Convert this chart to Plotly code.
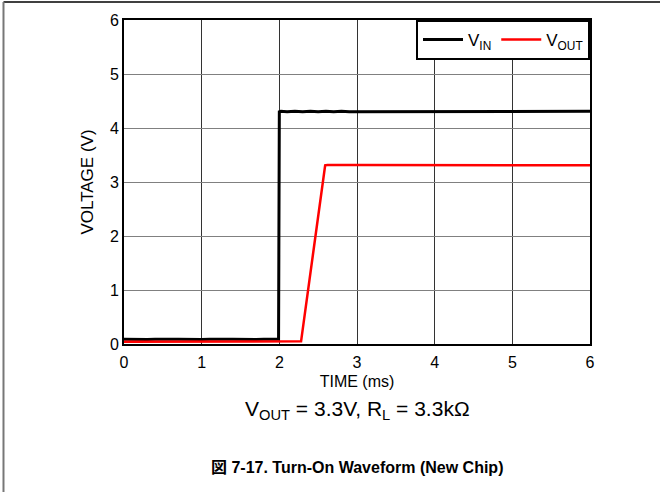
import plotly.graph_objects as go

# V_IN trace (ms, V)
vin_t = [0.0, 0.1, 0.2, 0.3, 0.4, 0.5, 0.6, 0.7, 0.8, 0.9, 1.0, 1.1, 1.2, 1.3, 1.4, 1.5, 1.6, 1.7, 1.8, 1.9,
         1.99, 2.0,
         2.02, 2.1, 2.2, 2.3, 2.4, 2.5, 2.6, 2.7, 2.8, 2.9, 3.0, 3.1, 3.2, 3.3, 3.4, 3.5, 3.6, 3.7, 3.8, 3.9,
         4.0, 4.1, 4.2, 4.3, 4.4, 4.5, 4.6, 4.7, 4.8, 4.9, 5.0, 5.1, 5.2, 5.3, 5.4, 5.5, 5.6, 5.7, 5.8, 5.9, 6.0]
vin_v = [0.09, 0.085, 0.09, 0.085, 0.09, 0.085, 0.09, 0.09, 0.085, 0.09, 0.085, 0.09, 0.085, 0.09, 0.09, 0.085, 0.09, 0.085, 0.09, 0.09,
         0.09, 4.30,
         4.31, 4.30, 4.31, 4.30, 4.31, 4.30, 4.31, 4.30, 4.31, 4.30, 4.30, 4.31, 4.30, 4.31, 4.30, 4.31, 4.30, 4.30, 4.31, 4.30,
         4.31, 4.30, 4.31, 4.30, 4.31, 4.30, 4.31, 4.30, 4.31, 4.30, 4.30, 4.31, 4.30, 4.31, 4.30, 4.31, 4.30, 4.30, 4.31, 4.30, 4.31]

# V_OUT trace (ms, V)
vout_t = [0.0, 1.0, 2.0, 2.25, 2.28, 2.59, 2.62, 3.0, 3.5, 4.0, 4.5, 5.0, 5.5, 6.0]
vout_v = [0.04, 0.04, 0.04, 0.04, 0.05, 3.31, 3.315, 3.315, 3.315, 3.31, 3.315, 3.315, 3.31, 3.31]

x_ticks = [0, 1, 2, 3, 4, 5, 6]
y_ticks = [0, 1, 2, 3, 4, 5, 6]

FONT = "Arial, Liberation Sans, Noto Sans CJK JP, sans-serif"

fig = go.Figure()
fig.add_trace(go.Scatter(x=vin_t, y=vin_v, mode="lines", name="V<sub>IN</sub>",
                         line=dict(color="black", width=3)))
fig.add_trace(go.Scatter(x=vout_t, y=vout_v, mode="lines", name="V<sub>OUT</sub>",
                         line=dict(color="#ff0000", width=2.5)))

fig.update_layout(
    width=660, height=492,
    margin=dict(l=124, r=70, t=20, b=148),
    paper_bgcolor="white", plot_bgcolor="white",
    font=dict(family=FONT, color="black", size=15),
    legend=dict(orientation="h", x=1, y=1, xanchor="right", yanchor="top",
                bgcolor="white", bordercolor="black", borderwidth=2,
                font=dict(size=17), itemwidth=40, tracegroupgap=0),
    showlegend=True,
)
fig.update_xaxes(range=[0, 6], tickvals=x_ticks, showgrid=True, gridcolor="#333333", gridwidth=1,
                 showline=True, linecolor="black", linewidth=2, mirror=True, zeroline=False,
                 ticks="", tickfont=dict(size=16), ticklabelstandoff=3,
                 title=dict(text="TIME (ms)", font=dict(size=16), standoff=6))
fig.update_yaxes(range=[0, 6], tickvals=y_ticks, showgrid=True, gridcolor="#808080", gridwidth=1,
                 showline=True, linecolor="black", linewidth=2, mirror=True, zeroline=False,
                 ticks="", tickfont=dict(size=16),
                 title=dict(text="VOLTAGE (V)", font=dict(size=17), standoff=12))

# caption and figure title
fig.add_annotation(text="V<sub>OUT</sub> = 3.3V, R<sub>L</sub> = 3.3kΩ", xref="paper", yref="paper",
                   x=0.5, y=-0.205, showarrow=False, font=dict(size=21), yanchor="middle")
fig.add_annotation(text="<b>図 7-17. Turn-On Waveform (New Chip)</b>", xref="paper", yref="paper",
                   x=0.5, y=-0.380, showarrow=False, font=dict(size=16), yanchor="middle")

# page frame lines (top and left)
fig.add_shape(type="line", xref="paper", yref="paper", x0=-0.2586, x1=1.16, y0=1.0556, y1=1.0556,
              line=dict(color="black", width=1.5))
fig.add_shape(type="line", xref="paper", yref="paper", x0=-0.2586, x1=-0.2586, y0=1.0556, y1=-0.47,
              line=dict(color="#777777", width=2))

fig.write_html("out.html", config={"displayModeBar": False},
               post_script="document.body.style.margin='0';")
